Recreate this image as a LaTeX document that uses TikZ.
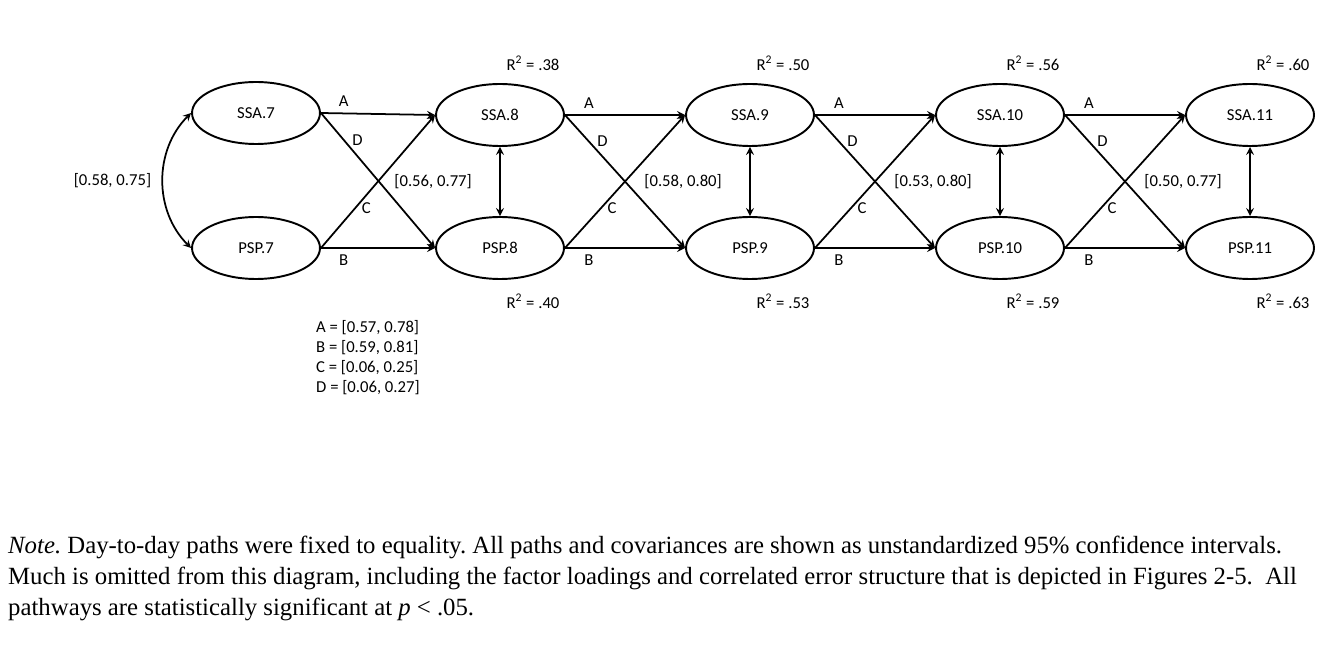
\documentclass[tikz,border=0pt]{standalone}
\usepackage{fontspec}
\setmainfont{Liberation Serif}
\newfontfamily\diagfont{Carlito}
\usetikzlibrary{shapes.geometric}
\tikzset{
  lat/.style={ellipse, draw, line width=1.1pt, minimum width=2.56cm, minimum height=1.24cm, font=\diagfont\fontsize{9.5}{10}\selectfont},
  lbl/.style={font=\diagfont\fontsize{9.5}{11.5}\selectfont},
  reg/.style={line width=1pt, -stealth},
  cov/.style={line width=1pt, stealth-stealth},
}
\begin{document}
\frenchspacing
\begin{tikzpicture}[x=0.02cm, y=-0.02cm]
  \useasboundingbox (0,0) rectangle (1344,658);
  % Latent variables
  \node[lat] (ssa7) at (256,113) {SSA.7};
  \node[lat] (psp7) at (256,248) {PSP.7};
  \foreach \d/\x/\ssa/\psp/\ciov in {8/500/.38/.40/{[0.56, 0.77]},9/750/.50/.53/{[0.58, 0.80]},10/1000/.56/.59/{[0.53, 0.80]},11/1250/.60/.63/{[0.50, 0.77]}} {
    \node[lat] (ssa\d) at (\x,115) {SSA.\d};
    \node[lat] (psp\d) at (\x,248) {PSP.\d};
    \node[lbl] (rs\d) at (\x+33,63) {R\textsuperscript{2} = \ssa};
    \node[lbl] (rp\d) at (\x+33,301) {R\textsuperscript{2} = \psp};
    \draw[cov] (ssa\d) -- (psp\d);
    \node[lbl, anchor=east] (ci\d) at (\x-22,182) {\ciov};
  }
  % Day-to-day paths
  \foreach \a/\b in {7/8,8/9,9/10,10/11} {
    \draw[reg] (ssa\a.east) -- (ssa\b.west) node[lbl, pos=0.2, above] {A};
    \draw[reg] (psp\a.east) -- (psp\b.west) node[lbl, pos=0.2, below] {B};
    \draw[reg] (psp\a.east) -- (ssa\b.west) node[lbl, pos=0.3, right] {C};
    \draw[reg] (ssa\a.east) -- (psp\b.west) node[lbl, pos=0.2, right=1pt] {D};
  }
  \draw[cov] (ssa7.west) to[out=-135, in=135] node[lbl, left=3pt] {[0.58, 0.75]} (psp7.west);
  % Legend
  \node[lbl, anchor=north west, align=left] (legend) at (310,314) {A = [0.57, 0.78]\\B = [0.59, 0.81]\\C = [0.06, 0.25]\\D = [0.06, 0.27]};
  \node[anchor=north west, align=left, font=\fontsize{14.1}{17.6}\selectfont] (note) at (2,530)
    {\textit{Note.} Day-to-day paths were fixed to equality. All paths and covariances are shown as unstandardized 95\% confidence intervals.\\
     Much is omitted from this diagram, including the factor loadings and correlated error structure that is depicted in Figures 2-5.\ \ All\\
     pathways are statistically significant at \textit{p} < .05.};
\end{tikzpicture}
\end{document}
